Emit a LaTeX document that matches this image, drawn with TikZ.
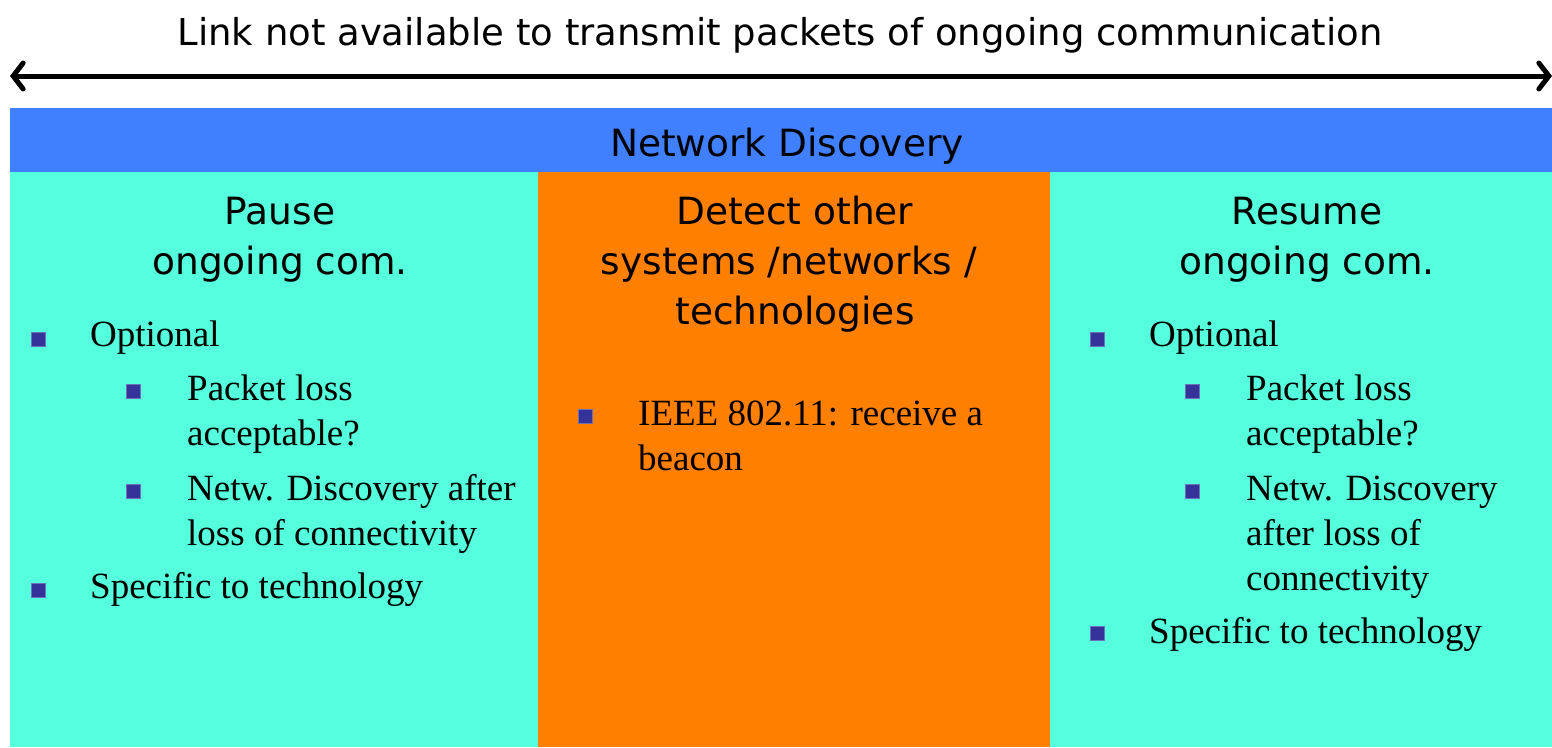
\documentclass[tikz,border=0pt]{standalone}
\usepackage{fontspec}
\setmainfont{Liberation Serif}
\newfontfamily\hd{DejaVu Sans}
\usetikzlibrary{arrows.meta}
\definecolor{barblue}{RGB}{64,128,255}
\definecolor{teal2}{RGB}{85,255,221}
\definecolor{orng}{RGB}{255,128,0}
\definecolor{bul}{RGB}{51,51,153}
\tikzset{
  hdtext/.style={font=\hd\fontsize{37.5}{44}\selectfont, inner sep=0pt, align=center},
  body/.style={font=\fontsize{37}{44}\selectfont, inner sep=0pt, anchor=base west},
  bulletsq/.style={fill=bul, draw=bul!70!white, line width=0.6pt, minimum size=13.5pt, inner sep=0pt},
}
\begin{document}
\begin{tikzpicture}[x=1pt,y=-1pt]
\useasboundingbox (0,0) rectangle (1552,747);
\fill[white] (0,0) rectangle (1552,747);
% columns
\fill[teal2] (10,172) rectangle (1552,747);
\fill[orng] (538,172) rectangle (1050,747);
\fill[barblue] (10,108) rectangle (1552,172);
% title and arrow
\node[hdtext, font=\hd\fontsize{37}{44}\selectfont] (title) at (780,35) {Link not available to transmit packets of ongoing communication};
\coordinate (aL) at (10,76);
\coordinate (aR) at (1552,76);
\draw[line width=5pt, {Straight Barb[length=10pt,width=26pt,line cap=round]}-{Straight Barb[length=10pt,width=26pt,line cap=round]}] (aL) -- (aR);
\node[hdtext] (nd) at (787,146) {Network Discovery};
% headings
\node[hdtext, anchor=base] (h1a) at (280,224) {Pause};
\node[hdtext, anchor=base] (h1b) at (280,274) {ongoing com.};
\node[hdtext, anchor=base] (h2a) at (795,224) {Detect other};
\node[hdtext, anchor=base] (h2b) at (789,274) {systems /networks /};
\node[hdtext, anchor=base] (h2c) at (795,324) {technologies};
\node[hdtext, anchor=base] (h3a) at (1307,224) {Resume};
\node[hdtext, anchor=base] (h3b) at (1307,274) {ongoing com.};
% left column
\node[bulletsq] (lb1) at (38.5,339.5) {};
\node[body] (lt1) at (90,346) {Optional};
\node[bulletsq] (lb2) at (133.5,391.5) {};
\node[body] (lt2a) at (187,400) {Packet loss};
\node[body] (lt2b) at (187,445) {acceptable?};
\node[bulletsq] (lb3) at (133.5,491.5) {};
\node[body] (lt3a) at (187,500) {Netw. Discovery after};
\node[body] (lt3b) at (187,545) {loss of connectivity};
\node[bulletsq] (lb4) at (38.5,590.5) {};
\node[body] (lt4) at (90,598) {Specific to technology};
% middle column
\node[bulletsq] (mb1) at (585.5,416.5) {};
\node[body] (mt1a) at (638,425) {IEEE 802.11: receive a};
\node[body] (mt1b) at (638,470) {beacon};
% right column
\node[bulletsq] (rb1) at (1097.5,339.5) {};
\node[body] (rt1) at (1149,346) {Optional};
\node[bulletsq] (rb2) at (1192.5,391.5) {};
\node[body] (rt2a) at (1246,400) {Packet loss};
\node[body] (rt2b) at (1246,445) {acceptable?};
\node[bulletsq] (rb3) at (1192.5,491.5) {};
\node[body] (rt3a) at (1246,500) {Netw. Discovery};
\node[body] (rt3b) at (1246,545) {after loss of};
\node[body] (rt3c) at (1246,590) {connectivity};
\node[bulletsq] (rb4) at (1097.5,633.5) {};
\node[body] (rt4) at (1149,643) {Specific to technology};
\end{tikzpicture}
\end{document}
